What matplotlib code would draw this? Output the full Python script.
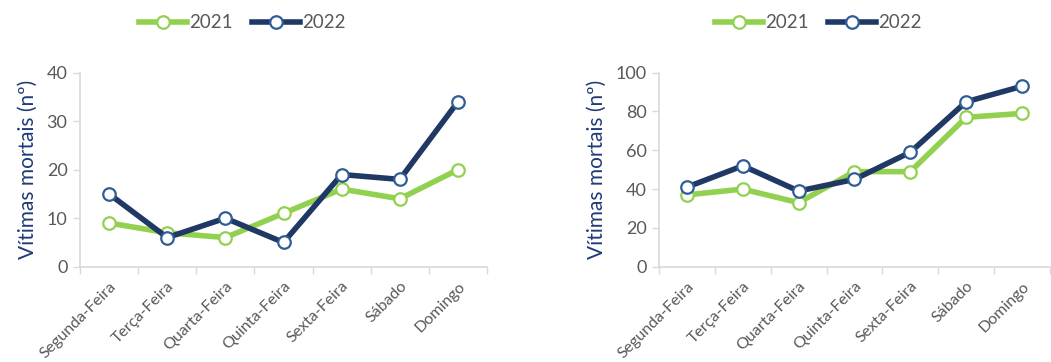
import matplotlib
matplotlib.use("Agg")
import matplotlib.pyplot as plt
from matplotlib.lines import Line2D

plt.rcParams['font.family'] = ['Lato', 'DejaVu Sans']

dias = ["Segunda-Feira", "Terça-Feira", "Quarta-Feira", "Quinta-Feira",
        "Sexta-Feira", "Sábado", "Domingo"]

# Painel esquerdo
esq_2021 = [9, 7, 6, 11, 16, 14, 20]
esq_2022 = [15, 6, 10, 5, 19, 18, 34]
esq_yticks = [0, 10, 20, 30, 40]

# Painel direito
dir_2021 = [37, 40, 33, 49, 49, 77, 79]
dir_2022 = [41, 52, 39, 45, 59, 85, 93]
dir_yticks = [0, 20, 40, 60, 80, 100]

anos = ["2021", "2022"]

VERDE = "#92D050"
AZUL = "#1F3864"
AZUL_MARC = "#2F5D95"
CINZA_TXT = "#595959"
CINZA_EIXO = "#D9D9D9"
AZUL_ROT = "#1F3A78"

fig = plt.figure(figsize=(10.51, 3.62), dpi=100)


def painel(rect, s21, s22, yticks, leg_anchor):
    ax = fig.add_axes(rect)
    x = list(range(len(dias)))
    ax.plot(x, s21, color=VERDE, lw=4, marker="o", ms=9,
            mfc="white", mec=VERDE, mew=1.6, solid_capstyle="round", zorder=3)
    ax.plot(x, s22, color=AZUL, lw=4, marker="o", ms=9,
            mfc="white", mec=AZUL_MARC, mew=1.6, solid_capstyle="round", zorder=4)
    ax.set_xlim(-0.5, len(dias) - 0.5)
    ax.set_ylim(yticks[0], yticks[-1])
    ax.set_yticks(yticks)
    ax.set_xticks(x)
    ax.set_xticklabels(dias, rotation=45, ha="right", va="top",
                       rotation_mode="anchor", fontsize=11.5, color=CINZA_TXT)
    ax.set_xticks([i - 0.5 for i in range(len(dias) + 1)], minor=True)
    ax.tick_params(axis="x", which="major", length=0, pad=9)
    ax.tick_params(axis="x", which="minor", length=5, width=1, color=CINZA_EIXO,
                   direction="out")
    ax.tick_params(axis="y", length=5, width=1, color=CINZA_EIXO,
                   labelsize=13, labelcolor=CINZA_TXT, pad=4)
    for s in ("top", "right"):
        ax.spines[s].set_visible(False)
    for s in ("left", "bottom"):
        ax.spines[s].set_color(CINZA_EIXO)
        ax.spines[s].set_linewidth(1.2)
    ax.set_ylabel("Vítimas mortais (nº)", color=AZUL_ROT, fontsize=15, labelpad=6)
    handles = [
        Line2D([], [], color=VERDE, lw=4, marker="o", ms=9, mfc="white",
               mec=VERDE, mew=1.6),
        Line2D([], [], color=AZUL, lw=4, marker="o", ms=9, mfc="white",
               mec=AZUL_MARC, mew=1.6),
    ]
    fig.legend(handles, anos, loc="center", bbox_to_anchor=leg_anchor,
               ncol=2, frameon=False, fontsize=13.5, labelcolor=CINZA_TXT,
               handlelength=2.6, handletextpad=0.1, columnspacing=1.0)
    return ax


painel([0.0761, 0.2633, 0.3873, 0.5359], esq_2021, esq_2022, esq_yticks,
       (0.2305, 0.937))
painel([0.627, 0.2633, 0.372, 0.5359], dir_2021, dir_2022, dir_yticks,
       (0.7785, 0.937))

fig.savefig("out.png", dpi=100)
